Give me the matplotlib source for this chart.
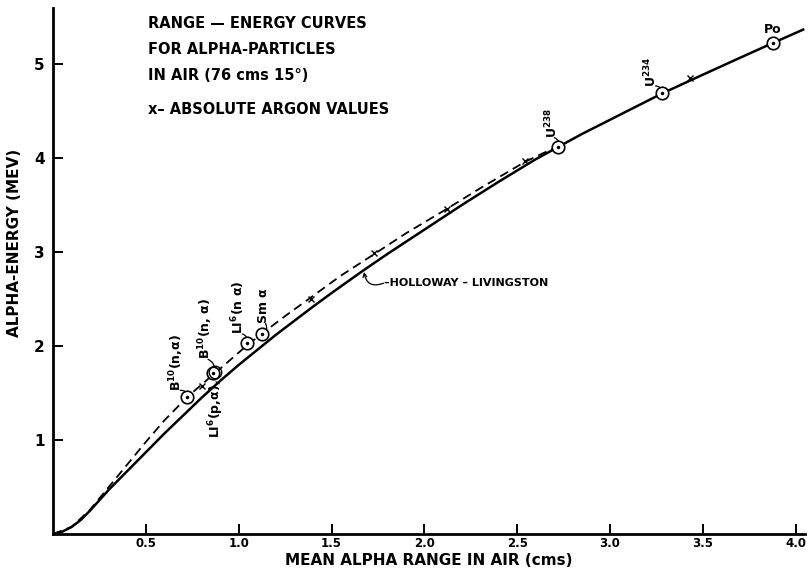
import numpy as np
import matplotlib
matplotlib.use("Agg")
import matplotlib.pyplot as plt

plt.rcParams["font.family"] = ["DejaVu Sans"]
plt.rcParams["font.weight"] = "bold"
plt.rcParams["mathtext.fontset"] = "dejavusans"
plt.rcParams["mathtext.default"] = "bf"

# ----------------------------
# data (range cm, energy MeV)
# ----------------------------
hl_range = [0.0, 0.05, 0.10, 0.15, 0.20, 0.25, 0.30, 0.40, 0.50, 0.60, 0.70, 0.80,
            0.90, 1.00, 1.10, 1.20, 1.30, 1.40, 1.50, 1.667, 1.80, 2.00, 2.20,
            2.40, 2.50, 2.60, 2.72, 2.85, 3.00, 3.14, 3.28, 3.50, 3.70, 3.88, 4.04]
hl_energy = [0.0, 0.025, 0.075, 0.15, 0.25, 0.36, 0.47, 0.67, 0.87, 1.07, 1.26, 1.45,
             1.63, 1.80, 1.96, 2.12, 2.27, 2.42, 2.565, 2.80, 2.98, 3.24, 3.50,
             3.75, 3.87, 3.99, 4.12, 4.26, 4.41, 4.55, 4.69, 4.89, 5.07, 5.23, 5.37]

dash_range = [0.0, 0.10, 0.20, 0.30, 0.40, 0.50, 0.60, 0.724, 0.80, 0.90, 1.04,
              1.13, 1.25, 1.39, 1.55, 1.73, 1.90, 2.12, 2.30, 2.54, 2.72]
dash_energy = [0.0, 0.075, 0.26, 0.50, 0.74, 0.98, 1.21, 1.46, 1.59, 1.76, 2.00,
               2.14, 2.32, 2.52, 2.75, 2.98, 3.20, 3.46, 3.68, 3.96, 4.13]

# measured points (circles)
pt_names = ["Po", "U234", "U238", "Sm", "Li6na", "B10b", "B10a"]
pt_range = [3.88, 3.28, 2.72, 1.127, 1.043, 0.86, 0.724]
pt_energy = [5.23, 4.69, 4.12, 2.13, 2.03, 1.71, 1.46]

# absolute argon values (crosses)
ar_range = [0.80, 1.39, 1.73, 2.12, 2.54, 3.43]
ar_energy = [1.58, 2.50, 2.99, 3.46, 3.97, 4.85]

xticks = [0.5, 1.0, 1.5, 2.0, 2.5, 3.0, 3.5, 4.0]
yticks = [1, 2, 3, 4, 5]

# ----------------------------
# figure
# ----------------------------
fig = plt.figure(figsize=(8.12, 5.71), dpi=100)
ax = fig.add_axes([53 / 812, 37 / 571, 752 / 812, 526 / 571])
ax.set_xlim(0, 4.05)
ax.set_ylim(0, 5.6)

ax.plot(hl_range, hl_energy, color="black", lw=1.8, zorder=3)
ax.plot(dash_range, dash_energy, color="black", lw=1.3, ls=(0, (5, 3)), zorder=3)

ax.plot(pt_range, pt_energy, ls="none", marker="o", ms=9, mfc="white",
        mec="black", mew=1.2, zorder=5)
ax.plot(pt_range, pt_energy, ls="none", marker=".", ms=3, color="black", zorder=6)
ax.plot([0.875], [1.73], ls="none", marker="o", ms=9, mfc="none",
        mec="black", mew=1.0, zorder=5)
ax.plot(ar_range, ar_energy, ls="none", marker="x", ms=4, mew=1.0,
        color="black", zorder=4)

for side in ["top", "right"]:
    ax.spines[side].set_visible(False)
for side in ["left", "bottom"]:
    ax.spines[side].set_linewidth(2)

ax.set_xticks(xticks)
ax.set_xticklabels([f"{v:.1f}" for v in xticks], fontsize=8.5, fontweight="bold")
ax.set_yticks(yticks)
ax.set_yticklabels([str(v) for v in yticks], fontsize=11, fontweight="bold")
ax.tick_params(axis="both", direction="in", length=7, width=1.4)
ax.tick_params(axis="x", pad=2)
ax.tick_params(axis="y", pad=6)

ax.set_xlabel("MEAN ALPHA RANGE IN AIR (cms)", fontsize=11, fontweight="bold")
ax.xaxis.label.set_va("center")
ax.xaxis.set_label_coords(0.50, -0.050)
ax.set_ylabel("ALPHA-ENERGY (MEV)", fontsize=11, fontweight="bold")
ax.yaxis.set_label_coords(-0.041, 0.553)

# title block
title_lines = ["RANGE \u2014 ENERGY CURVES", "FOR ALPHA-PARTICLES",
               "IN AIR (76 cms 15\u00b0)", "x\u2013 ABSOLUTE ARGON VALUES"]
title_y = [23, 49, 76, 110]
for txt, py in zip(title_lines, title_y):
    fig.text(148 / 812, 1 - py / 571, txt, fontsize=10.5, fontweight="bold",
             va="center", ha="left")

# point labels
lab_kw = dict(fontsize=9, fontweight="bold", rotation=90, ha="center")
ax.text(3.877, 5.37, "Po", fontsize=9, fontweight="bold", ha="center", va="center")
ax.text(3.22, 4.76, r"U$^{234}$", va="bottom", **lab_kw)
ax.text(2.69, 4.22, r"U$^{238}$", va="bottom", **lab_kw)
ax.text(0.665, 1.52, r"B$^{10}$(n,$\alpha$)", va="bottom", **lab_kw)
ax.text(0.82, 1.86, r"B$^{10}$(n, $\alpha$)", va="bottom", **lab_kw)
ax.text(1.00, 2.13, r"LI$^{6}$(n $\alpha$)", va="bottom", **lab_kw)
ax.text(1.135, 2.24, r"Sm $\alpha$", va="bottom", **lab_kw)
ax.text(0.88, 1.60, r"LI$^{6}$(p,$\alpha$)", va="top", **lab_kw)

# little wiggly leaders from points to labels
leaders = [((3.28, 4.69), (3.245, 4.77)), ((2.72, 4.12), (2.70, 4.22)),
           ((0.724, 1.46), (0.685, 1.53)), ((0.86, 1.71), (0.835, 1.86)),
           ((1.043, 2.03), (1.02, 2.13)), ((1.127, 2.13), (1.145, 2.24)),
           ((0.875, 1.68), (0.895, 1.60))]
for (p, q) in leaders:
    ax.annotate("", xy=p, xytext=q,
                arrowprops=dict(arrowstyle="-", lw=0.9, color="black",
                                connectionstyle="arc3,rad=-0.5", shrinkA=0, shrinkB=4))

# Holloway-Livingston label with small hook arrow
ax.text(1.78, 2.67, "\u2013HOLLOWAY \u2013 LIVINGSTON", fontsize=8, fontweight="bold",
        va="center", ha="left")
ax.annotate("", xy=(1.675, 2.79), xytext=(1.78, 2.67),
            arrowprops=dict(arrowstyle="->", lw=0.9, color="black",
                            connectionstyle="arc3,rad=-0.6", shrinkA=0, shrinkB=0,
                            mutation_scale=7))

fig.savefig("out.png", dpi=100)
